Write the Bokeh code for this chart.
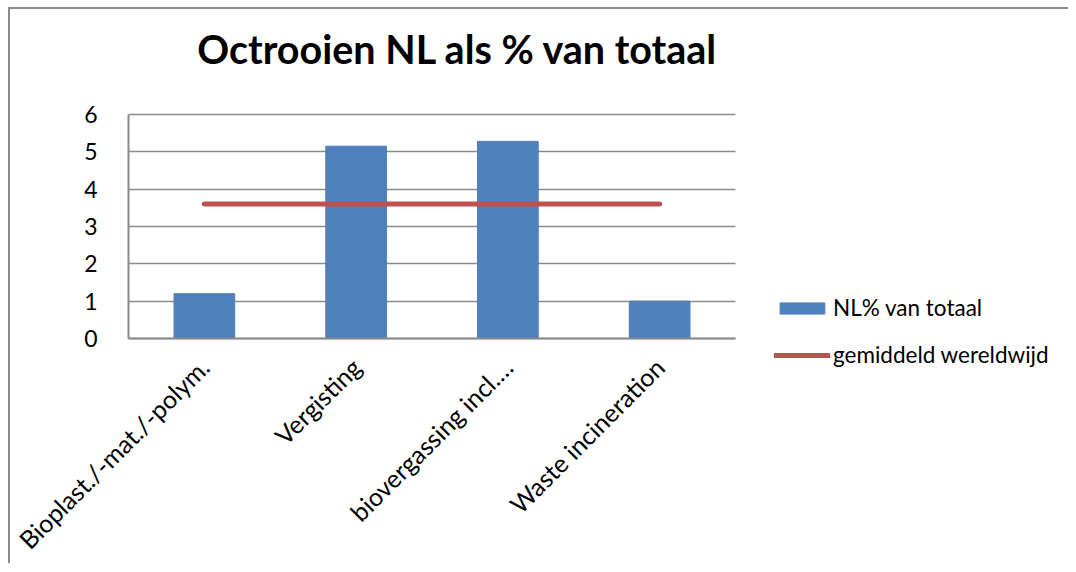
from math import pi
from bokeh.plotting import figure
from bokeh.models import Range1d, FixedTicker, Label, Legend, LegendItem
from bokeh.embed import file_html
from bokeh.resources import INLINE

# ---- data ----
categories = ["Bioplast./-mat./-polym.", "Vergisting", "biovergassing incl.…", "Waste incineration"]
nl_pct = [1.2, 5.15, 5.28, 1.0]
world_avg = [3.6, 3.6, 3.6, 3.6]
y_ticks = [0, 1, 2, 3, 4, 5, 6]
title_text = "Octrooien NL als % van totaal"
series_names = ["NL% van totaal", "gemiddeld wereldwijd"]

BLUE = "#4F81BD"
RED = "#C0504D"
GRID = "#8a8a8a"
FONT = "Lato"

# ---- layout (pixels) ----
FIG_W, FIG_H = 1060, 556
N = len(categories)
Y_MAX = y_ticks[-1]
PLOT_LEFT, PLOT_TOP = 118, 105            # value area origin inside the canvas
PLOT_W_PX, PLOT_H_PX = 607, 224           # size of the category area / value area
X_UNIT = PLOT_W_PX / N
Y_UNIT = PLOT_H_PX / Y_MAX
x_start = -PLOT_LEFT / X_UNIT
x_end = x_start + FIG_W / X_UNIT
y_end = Y_MAX + PLOT_TOP / Y_UNIT
y_start = y_end - FIG_H / Y_UNIT

x_pos = [i + 0.5 for i in range(N)]       # category centres on the numeric scale

p = figure(width=FIG_W, height=FIG_H, output_backend="svg", toolbar_location=None,
           x_range=Range1d(x_start, x_end), y_range=Range1d(y_start, y_end),
           min_border_left=0, min_border_right=0, min_border_top=0, min_border_bottom=0)
p.styles = {"margin-left": "8px", "margin-top": "7px",
            "border-top": "2px solid #8a8a8a", "border-left": "2px solid #8a8a8a"}
p.outline_line_color = None
p.background_fill_color = "white"
p.border_fill_color = "white"

bars = p.vbar(x=x_pos, top=nl_pct, width=0.4, fill_color=BLUE, line_color=BLUE)
line = p.line(x=x_pos, y=world_avg, line_color=RED, line_width=5, line_cap="round")

# y axis (value axis at x = 0)
p.yaxis.fixed_location = 0
p.yaxis.ticker = FixedTicker(ticks=y_ticks)
p.yaxis.bounds = (0, Y_MAX)
p.yaxis.major_tick_line_color = None
p.yaxis.minor_tick_line_color = None
p.yaxis.axis_line_color = GRID
p.yaxis.axis_line_width = 2
p.yaxis.major_label_standoff = 25
p.yaxis.major_label_text_font = FONT
p.yaxis.major_label_text_font_size = "23px"
p.yaxis.major_label_text_color = "black"

# x axis (category axis at y = 0)
p.xaxis.fixed_location = 0
p.xaxis.bounds = (0, N)
p.xaxis.ticker = FixedTicker(ticks=x_pos)
p.xaxis.major_label_overrides = {x: c for x, c in zip(x_pos, categories)}
p.xaxis.major_tick_line_color = None
p.xaxis.minor_tick_line_color = None
p.xaxis.axis_line_color = GRID
p.xaxis.axis_line_width = 2
p.xaxis.major_label_orientation = pi / 4
p.xaxis.major_label_standoff = 18
p.xaxis.major_label_text_font = FONT
p.xaxis.major_label_text_font_size = "25px"
p.xaxis.major_label_text_color = "black"

p.xgrid.grid_line_color = None
p.ygrid.ticker = FixedTicker(ticks=y_ticks)
p.ygrid.cross_bounds = (0, N)
p.ygrid.grid_line_color = GRID
p.ygrid.grid_line_width = 1.6

# title
p.add_layout(Label(x=2.17, y=Y_MAX + 66 / Y_UNIT, text=title_text, text_font=FONT,
                   text_font_size="39.5px", text_font_style="bold", text_align="center",
                   text_baseline="alphabetic", text_color="black"))

legend = Legend(items=[LegendItem(label=series_names[0], renderers=[bars]),
                       LegendItem(label=series_names[1], renderers=[line])],
                location=(PLOT_LEFT + 646, 197), orientation="vertical",
                glyph_width=56, glyph_height=14, label_height=24, spacing=20,
                label_standoff=3, padding=0, margin=0, border_line_color=None,
                background_fill_alpha=0,
                label_text_font=FONT, label_text_font_size="22.5px", label_text_color="black")
p.add_layout(legend, "center")

open("out.html", "w").write(file_html(p, INLINE))
